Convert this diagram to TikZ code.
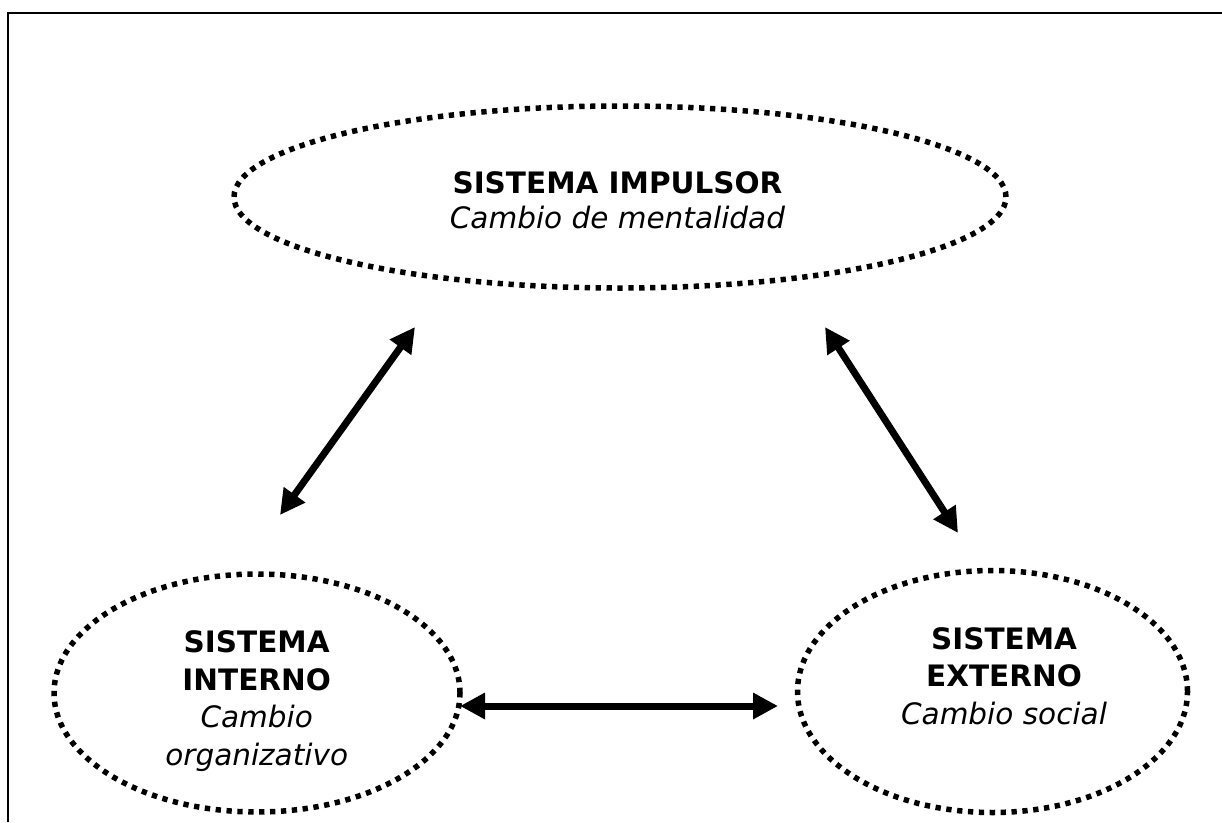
\documentclass[tikz,border=0pt]{standalone}
\usepackage{fontspec}
\setmainfont{DejaVu Sans}
\usetikzlibrary{shapes.geometric,arrows.meta}
\tikzset{
  dotell/.style={ellipse, draw=black, line width=5.5pt, dash pattern=on 5.3pt off 5.6pt, inner sep=0pt},
  lbl/.style={align=center, inner sep=0pt, font=\fontsize{29.5}{37.5}\selectfont},
  biarrow/.style={line width=7pt, {Triangle[length=25pt,width=25pt]}-{Triangle[length=25pt,width=25pt]}},
  frame/.style={line width=2.8pt}
}
\begin{document}
\begin{tikzpicture}[x=1pt,y=-1pt]
\useasboundingbox (0,0) rectangle (1222,822);
\coordinate (fr1) at (1222,13);
\coordinate (fr2) at (8,13);
\coordinate (fr3) at (8,822);
\draw[frame] (fr1) -- (fr2) -- (fr3);

\node[dotell, minimum width=772pt, minimum height=182pt] (imp) at (620,197) {};
\node[dotell, minimum width=406pt, minimum height=238pt] (int) at (257,693) {};
\node[dotell, minimum width=390pt, minimum height=242pt] (ext) at (992.5,691.5) {};

\node[lbl, font=\fontsize{29.5}{35}\selectfont] (timp) at (617.5,200.4) {\textbf{SISTEMA IMPULSOR}\\\textit{Cambio de mentalidad}};
\node[lbl] (tint) at (256.7,701.3) {\textbf{SISTEMA}\\\textbf{INTERNO}\\\textit{Cambio}\\\textit{organizativo}};
\node[lbl] (text) at (1004,675.9) {\textbf{SISTEMA}\\\textbf{EXTERNO}\\\textit{Cambio social}};

\coordinate (a1s) at (280,515);
\coordinate (a1e) at (415,327);
\coordinate (a2s) at (825,327);
\coordinate (a2e) at (958,533);
\coordinate (a3s) at (460,706);
\coordinate (a3e) at (778,706);
\draw[biarrow] (a1s) -- (a1e);
\draw[biarrow] (a2s) -- (a2e);
\draw[biarrow] (a3s) -- (a3e);
\end{tikzpicture}
\end{document}
